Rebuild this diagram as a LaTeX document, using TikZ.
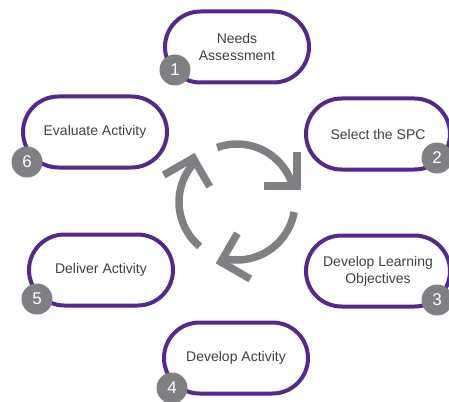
\documentclass[tikz,border=0pt]{standalone}
\usepackage{fontspec}
\setmainfont{Liberation Sans}
\usetikzlibrary{shapes.misc, positioning}

\definecolor{stageline}{RGB}{84,40,140}
\definecolor{cyclegray}{RGB}{128,128,132}
\definecolor{stagetext}{RGB}{64,64,64}

\begin{document}
\begin{tikzpicture}[x=1pt, y=-1pt, on grid,
    stage/.style={rounded rectangle, draw=stageline, line width=4pt, fill=white,
        minimum width=144pt, minimum height=71pt, inner sep=0pt, align=center,
        text=stagetext, font=\fontsize{14}{17}\selectfont},
    badge/.style={circle, fill=cyclegray, minimum size=31pt, inner sep=0pt,
        text=white, font=\fontsize{17}{17}\selectfont},
    turn/.style={draw=cyclegray, line width=7.5pt}]
    \useasboundingbox (0,0) rectangle (449,401);

    \node[stage] (s_1) at (237,47) {Needs\\Assessment};
    \node[stage] (s_2) [below right=87pt and 141pt of s_1] {Select the SPC};
    \node[stage] (s_3) [below=137pt of s_2] {Develop Learning\\Objectives};
    \node[stage] (s_4) [below left=87pt and 142pt of s_3] {Develop Activity};
    \node[stage] (s_5) [above left=88pt and 135pt of s_4] {Deliver Activity};
    \node[stage] (s_6) [above left=138pt and 6pt of s_5] {Evaluate Activity};

    \node[badge] (n_1) [below left=23pt and 62pt of s_1] {1};
    \node[badge] (n_2) [below right=24pt and 59pt of s_2] {2};
    \node[badge] (n_3) [below right=29pt and 59pt of s_3] {3};
    \node[badge] (n_4) [below left=30pt and 64pt of s_4] {4};
    \node[badge] (n_5) [below left=29pt and 64pt of s_5] {5};
    \node[badge] (n_6) [below left=30pt and 68pt of s_6] {6};

    % cycle arrows
    \begin{scope}[shift={(237,202)}]
        \draw[turn] (-110:58) arc[start angle=-110, end angle=-18, radius=58] -- (60,-16);
        \draw[turn, line join=miter] (60,-50) -- (60,-16) -- (27,-16);
    \end{scope}
    \begin{scope}[shift={(237,202)}, rotate=-120]
        \draw[turn] (-110:58) arc[start angle=-110, end angle=-18, radius=58] -- (60,-16);
        \draw[turn, line join=miter] (60,-50) -- (60,-16) -- (27,-16);
    \end{scope}
    \begin{scope}[shift={(237,202)}, rotate=-240]
        \draw[turn] (-110:58) arc[start angle=-110, end angle=-18, radius=58] -- (60,-16);
        \draw[turn, line join=miter] (60,-50) -- (60,-16) -- (27,-16);
    \end{scope}
\end{tikzpicture}
\end{document}
